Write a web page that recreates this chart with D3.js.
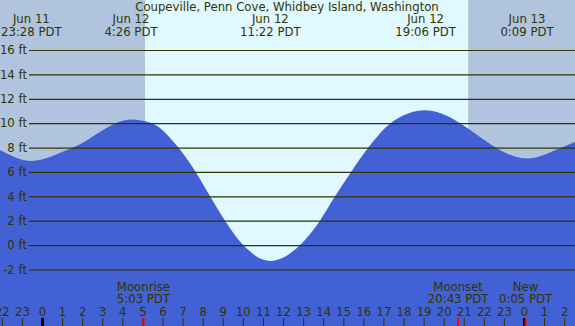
<!DOCTYPE html>
<html>
<head>
<meta charset="utf-8">
<script src="https://cdn.jsdelivr.net/npm/d3@7"></script>
<style>
  body { margin: 0; padding: 0; background: #fff; }
  svg { display: block; font-family: "DejaVu Sans", sans-serif; }
</style>
</head>
<body>
<div id="chart"></div>
<script>
// tide chart data, hours counted from Jun 12 0:00 PDT
const title = "Coupeville, Penn Cove, Whidbey Island, Washington";

// tide curve readings (hour, feet)
const tideHours = [-2.1, -0.53, 1.54, 4.43, 5.46, 6.79, 7.65, 8.37, 9.11, 10.02, 11.37,
                   12.85, 13.84, 14.59, 15.39, 16.25, 17.36, 19.1, 24.15, 25.88, 26.6];
const tideFeet = [7.8, 6.9, 8, 10.3, 10, 8, 6, 4, 2, 0, -1.3,
                  0, 2, 4, 6, 8, 10, 11.05, 7.1, 8, 8.5];

// labels on top, one per high/low
const extremeHours = [-0.53, 4.43, 11.37, 19.1, 24.15];
const extremeDates = ["Jun 11", "Jun 12", "Jun 12", "Jun 12", "Jun 13"];
const extremeTimes = ["23:28 PDT", "4:26 PDT", "11:22 PDT", "19:06 PDT", "0:09 PDT"];

// sun: daylight band
const sunrise = 5.13;
const sunset = 21.22;

// moon events at the bottom
const moonHours = [5.05, 20.72, 24.08];
const moonNames = ["Moonrise", "Moonset", "New"];
const moonTimes = ["5:03 PDT", "20:43 PDT", "0:05 PDT"];

const yTicks = [-2, 0, 2, 4, 6, 8, 10, 12, 14, 16];
const hourTicks = d3.range(-2, 27);

const W = 575, H = 326;
const textCol = "#333300";
const fontSize = 11.7;

let svg = d3.select("#chart").append("svg")
    .attr("width", W)
    .attr("height", H);

// scales
let x = d3.scaleLinear().domain([0, 24]).range([42, 524]);
let y = d3.scaleLinear().domain([-2, 16]).range([269.5, 50]);

// night background, then daylight
svg.append("rect")
    .attr("width", W).attr("height", H)
    .attr("fill", "#b0c4de");
svg.append("rect")
    .attr("x", x(sunrise))
    .attr("width", x(sunset) - x(sunrise))
    .attr("height", H)
    .attr("fill", "#e0f8ff");

// the water
let area = d3.area()
    .x((d, i) => x(tideHours[i]))
    .y0(H)
    .y1((d, i) => y(d))
    .curve(d3.curveMonotoneX);

svg.append("path")
    .datum(tideFeet)
    .attr("d", area)
    .attr("fill", "#4161d4");

// y grid + labels
let yAxis = svg.append("g")
    .attr("transform", "translate(29,0)")
    .call(d3.axisLeft(y)
        .tickValues(yTicks)
        .tickSize(-(W - 29))
        .tickPadding(2)
        .tickFormat(d => d + " ft"));
yAxis.select(".domain").remove();
yAxis.selectAll("line")
    .attr("stroke", textCol)
    .attr("stroke-width", 1.2);
yAxis.selectAll("text")
    .attr("fill", textCol)
    .attr("font-size", fontSize)
    .attr("font-family", "DejaVu Sans, sans-serif");

// hour ticks along the bottom
let xAxis = svg.append("g")
    .attr("transform", "translate(0," + H + ")")
    .call(d3.axisTop(x)
        .tickValues(hourTicks)
        .tickSize(8)
        .tickPadding(2)
        .tickFormat(d => ((d % 24) + 24) % 24));
xAxis.select(".domain").remove();
xAxis.selectAll("line")
    .attr("stroke", d => (d % 24 == 0) ? "#000" : textCol)
    .attr("stroke-width", d => (d % 24 == 0) ? 3 : 1);
xAxis.selectAll("text")
    .attr("fill", textCol)
    .attr("font-size", fontSize)
    .attr("font-family", "DejaVu Sans, sans-serif");

// red moon ticks
svg.selectAll(".moon-tick")
    .data(moonHours)
    .enter()
    .append("line")
        .attr("class", "moon-tick")
        .attr("x1", d => x(d)).attr("x2", d => x(d))
        .attr("y1", H - 8).attr("y2", H)
        .attr("stroke", "#ff0000")
        .attr("stroke-width", 2);

// moon labels
let moonLab = svg.selectAll(".moon-label")
    .data(moonHours)
    .enter()
    .append("text")
        .attr("class", "moon-label")
        .attr("text-anchor", "middle")
        .attr("fill", textCol)
        .attr("font-size", fontSize);
moonLab.append("tspan")
    .attr("x", d => x(d)).attr("y", 291)
    .text((d, i) => moonNames[i]);
moonLab.append("tspan")
    .attr("x", d => x(d)).attr("y", 303)
    .text((d, i) => moonTimes[i]);

// title
svg.append("text")
    .attr("x", 287)
    .attr("y", 11)
    .attr("text-anchor", "middle")
    .attr("fill", textCol)
    .attr("font-size", fontSize)
    .text(title);

// high / low labels
let topLab = svg.selectAll(".ext-label")
    .data(extremeHours)
    .enter()
    .append("text")
        .attr("class", "ext-label")
        .attr("text-anchor", "middle")
        .attr("fill", textCol)
        .attr("font-size", fontSize);
topLab.append("tspan")
    .attr("x", d => x(d)).attr("y", 23)
    .text((d, i) => extremeDates[i]);
topLab.append("tspan")
    .attr("x", d => x(d)).attr("y", 36)
    .text((d, i) => extremeTimes[i]);
</script>
</body>
</html>
